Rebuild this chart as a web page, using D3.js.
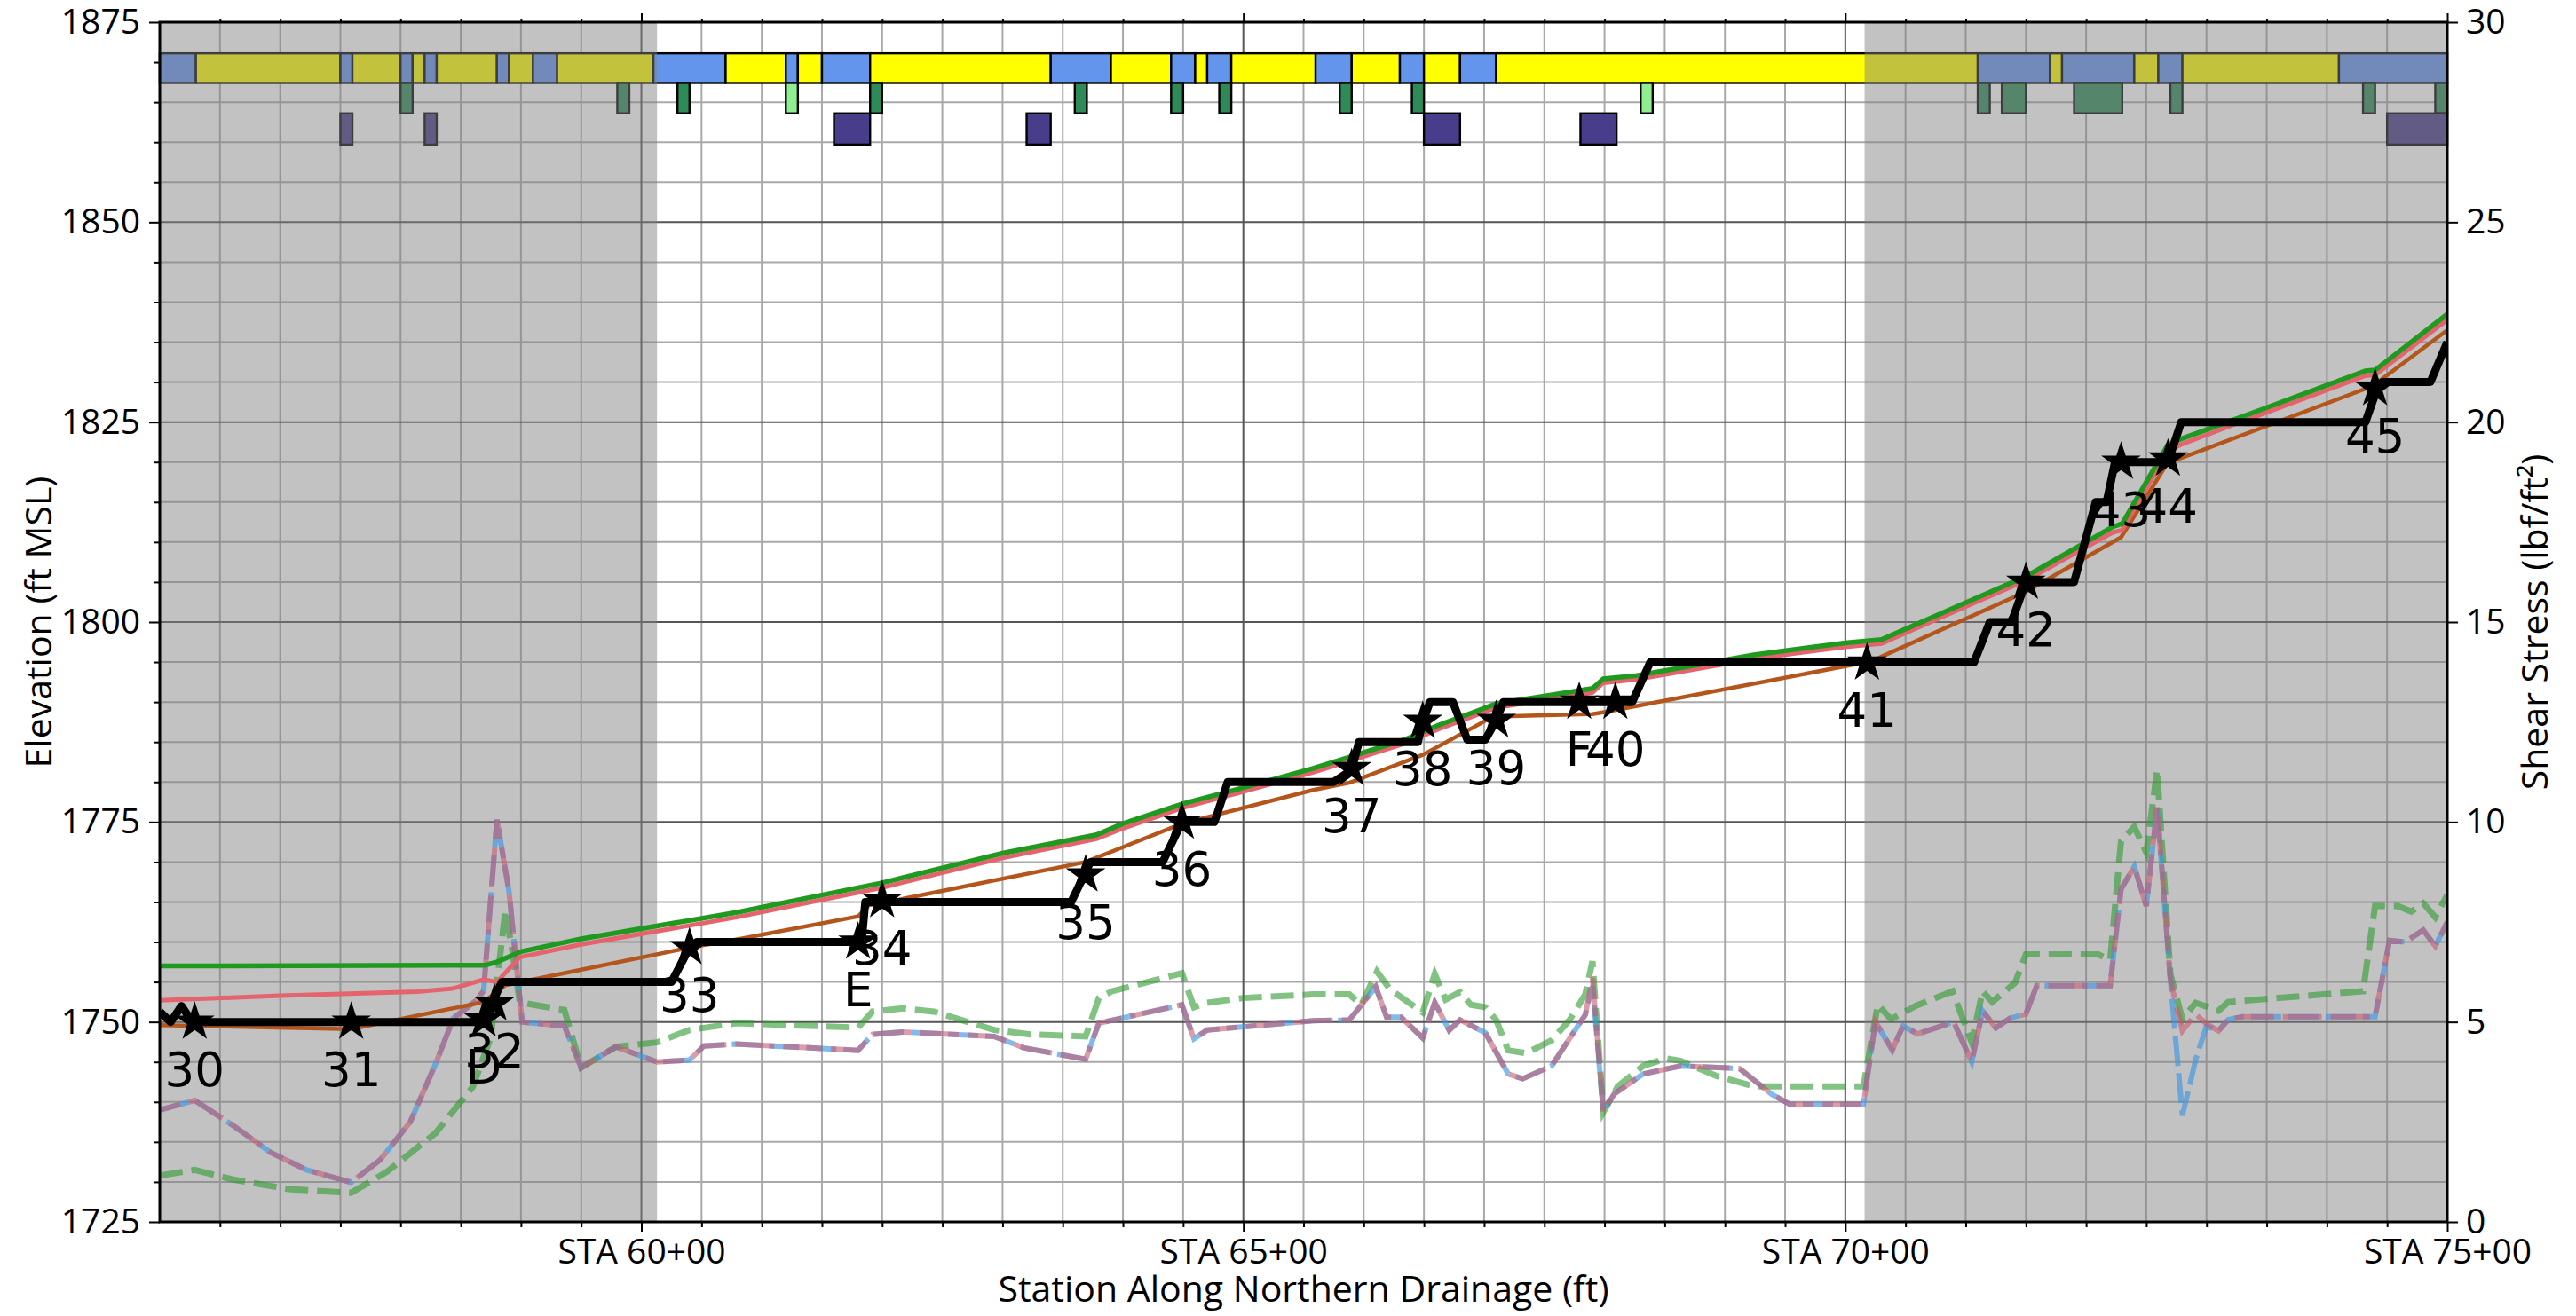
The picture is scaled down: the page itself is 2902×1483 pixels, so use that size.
<!DOCTYPE html>
<html>
<head>
<meta charset="utf-8">
<script src="https://cdn.jsdelivr.net/npm/d3@7"></script>
<style>
body { margin: 0; background: #fff; }
text { font-family: "Open Sans", sans-serif; }
</style>
</head>
<body>
<svg id="chart" width="2902" height="1483"></svg>
<script>
var stationTicks = [6000, 6500, 7000, 7500];
var elevTicks = [1725, 1750, 1775, 1800, 1825, 1850, 1875];
var stressTicks = [0, 5, 10, 15, 20, 25, 30];
var shadedZones = [[5600, 6013], [7016, 7500]];

// top strip, row 1 (b = blue, y = yellow)
var row1 = [[5600,5630,"b"],[5630,5750,"y"],[5750,5760,"b"],[5760,5800,"y"],[5800,5810,"b"],[5810,5820,"y"],
    [5820,5830,"b"],[5830,5880,"y"],[5880,5890,"b"],[5890,5910,"y"],[5910,5930,"b"],[5930,6010,"y"],
    [6010,6070,"b"],[6070,6120,"y"],[6120,6130,"b"],[6130,6150,"y"],[6150,6190,"b"],[6190,6340,"y"],
    [6340,6390,"b"],[6390,6440,"y"],[6440,6460,"b"],[6460,6470,"y"],[6470,6490,"b"],[6490,6560,"y"],
    [6560,6590,"b"],[6590,6630,"y"],[6630,6650,"b"],[6650,6680,"y"],[6680,6710,"b"],[6710,7110,"y"],
    [7110,7170,"b"],[7170,7180,"y"],[7180,7240,"b"],[7240,7260,"y"],[7260,7280,"b"],[7280,7410,"y"],
    [7410,7500,"b"]];
// row 2 (g = green, l = light green)
var row2 = [[5800,5810,"g"],[5980,5990,"g"],[6030,6040,"g"],[6120,6130,"l"],[6190,6200,"g"],[6360,6370,"g"],
    [6440,6450,"g"],[6480,6490,"g"],[6580,6590,"g"],[6640,6650,"g"],[6830,6840,"l"],[7110,7120,"g"],
    [7130,7150,"g"],[7190,7230,"g"],[7270,7280,"g"],[7430,7440,"g"],[7490,7500,"g"]];
// row 3 (p = purple)
var row3 = [[5750,5760,"p"],[5820,5830,"p"],[6160,6190,"p"],[6320,6340,"p"],[6650,6680,"p"],[6780,6810,"p"],[7450,7500,"p"]];

// elevation lines (station, ft MSL)
var greenWse = [[5600,1757.0],[5870,1757.1],[5880,1757.5],[5900,1758.8],[5950,1760.4],[6079,1763.7],[6200,1767.4],
    [6300,1771.1],[6378,1773.4],[6400,1774.8],[6450,1777.3],[6500,1779.3],[6558,1781.7],[6634,1785.3],
    [6662,1787.1],[6689,1788.6],[6710,1789.8],[6790,1791.7],[6799,1792.9],[6826,1793.3],[6924,1795.9],
    [7000,1797.4],[7030,1797.8],[7104,1802.7],[7150,1805.7],[7222,1811.9],[7230,1812.3],[7268,1822.2],
    [7279,1822.9],[7330,1825.7],[7432,1831.4],[7440,1831.5],[7500,1838.5]];
var pinkWse = [[5600,1752.7],[5700,1753.3],[5814,1753.8],[5844,1754.2],[5869,1755.3],[5880,1755.0],[5899,1758.1],
    [5950,1759.7],[6079,1763.1],[6200,1766.8],[6300,1770.5],[6378,1772.9],[6400,1774.2],[6450,1776.8],
    [6500,1778.8],[6558,1781.2],[6634,1784.8],[6662,1786.6],[6689,1788.1],[6710,1789.3],[6790,1791.2],
    [6799,1792.4],[6826,1792.8],[6924,1795.4],[7000,1796.9],[7030,1797.3],[7104,1802.2],[7150,1805.2],
    [7222,1811.2],[7230,1811.5],[7268,1821.4],[7279,1822.2],[7330,1825.1],[7432,1830.8],[7440,1830.9],
    [7500,1837.8]];
var brownBed = [[5600,1749.6],[5759,1749.1],[5869,1752.5],[5887,1754.6],[6040,1759.3],[6079,1760.3],[6180,1763.2],
    [6189,1764.6],[6201,1764.9],[6369,1770.0],[6449,1774.8],[6558,1779.0],[6588,1779.9],[6649,1783.4],
    [6704,1787.9],[6716,1788.2],[6790,1788.5],[6802,1788.8],[7018,1795.0],[7029,1795.6],[7150,1803.8],
    [7229,1810.6],[7268,1820.0],[7279,1820.5],[7438,1829.5],[7500,1836.5]];
var blackProfile = [[5600,1751.3],[5609,1750],[5618,1752],[5627,1750],[5869,1750],[5884,1755],[6025,1755],
    [6040,1759.3],[6046,1760],[6183,1760],[6186,1765],[6357,1765],[6373,1770],[6433,1770],[6449,1775],
    [6476,1775],[6487,1780],[6575,1780],[6590,1781.5],[6596,1785],[6645,1785],[6649,1787.5],[6655,1790],
    [6674,1790],[6686,1785.3],[6701,1785.3],[6710,1787.7],[6716,1790],[6823,1790],[6838,1795],[7107,1795],
    [7120,1800],[7138,1800],[7150,1805],[7190,1805],[7208,1815],[7217,1815],[7224,1820],[7268,1820],
    [7279,1825],[7432,1825],[7442,1829.3],[7446,1830],[7486,1830],[7500,1835]];
var starLabels = [["30",5629,1750],["31",5759,1750],["D",5869,1750.3],["32",5878,1752.3],["33",6040,1759.3],
    ["E",6180,1760],["34",6200,1765.2],["35",6369,1768.4],["36",6449,1775],["37",6590,1781.7],
    ["38",6649,1787.6],["39",6710,1787.7],["F",6779,1790],["40",6809,1790],["41",7018,1794.9],
    ["42",7150,1805],["43",7229,1820],["44",7268,1820.4],["45",7440,1829.2]];

// shear stress lines (station, lbf/ft2)
var shearBlue = [[5600,2.8],[5629,3.04],[5661,2.41],[5692,1.74],[5722,1.3],[5759,0.99],[5783,1.55],[5808,2.5],
    [5829,3.95],[5844,5.1],[5863,5.54],[5869,5.78],[5880,10.06],[5890,8.28],[5901,5.0],[5936,4.9],[5950,3.86],
    [5979,4.38],[6013,4.0],[6040,4.05],[6052,4.4],[6079,4.45],[6180,4.29],[6192,4.69],[6217,4.75],[6293,4.64],
    [6318,4.35],[6369,4.07],[6380,4.97],[6449,5.43],[6459,4.58],[6470,4.8],[6558,5.03],[6588,5.05],[6610,5.88],
    [6619,5.12],[6631,5.12],[6649,4.6],[6659,5.49],[6671,4.79],[6680,5.05],[6701,4.73],[6720,3.7],[6732,3.58],
    [6756,3.9],[6784,5.18],[6790,5.9],[6799,2.75],[6808,3.2],[6832,3.7],[6863,3.9],[6912,3.84],[6939,3.19],
    [6954,2.94],[7015,2.94],[7025,5.0],[7039,4.3],[7048,4.9],[7060,4.7],[7090,5.0],[7105,4.0],[7114,5.28],
    [7125,4.85],[7137,5.1],[7150,5.2],[7159,5.91],[7220,5.91],[7229,8.32],[7240,8.89],[7250,7.9],[7259,10.37],
    [7270,6.05],[7280,2.66],[7291,4.06],[7300,4.9],[7310,4.78],[7318,5.06],[7330,5.13],[7440,5.13],[7452,7.04],
    [7465,7.0],[7480,7.3],[7490,6.9],[7500,7.5]];
var shearPink = [[5600,2.8],[5629,3.04],[5661,2.41],[5692,1.74],[5722,1.3],[5759,0.99],[5783,1.55],[5808,2.5],
    [5829,3.95],[5844,5.1],[5863,5.54],[5869,5.78],[5880,10.06],[5890,8.28],[5901,5.0],[5936,4.9],[5950,3.86],
    [5979,4.38],[6013,4.0],[6040,4.05],[6052,4.4],[6079,4.45],[6180,4.29],[6192,4.69],[6217,4.75],[6293,4.64],
    [6318,4.35],[6369,4.07],[6380,4.97],[6449,5.43],[6459,4.58],[6470,4.8],[6558,5.03],[6588,5.05],[6610,5.88],
    [6619,5.12],[6631,5.12],[6649,4.6],[6659,5.49],[6671,4.79],[6680,5.05],[6701,4.73],[6720,3.7],[6732,3.58],
    [6756,3.9],[6784,5.18],[6790,6.1],[6799,2.75],[6808,3.2],[6832,3.7],[6863,3.9],[6912,3.84],[6939,3.19],
    [6954,2.94],[7015,2.94],[7025,5.0],[7039,4.3],[7048,4.9],[7060,4.7],[7090,5.0],[7105,4.0],[7114,5.28],
    [7125,4.85],[7137,5.1],[7150,5.2],[7159,5.91],[7220,5.91],[7229,8.32],[7240,8.89],[7250,7.9],[7259,10.37],
    [7270,6.05],[7280,4.78],[7291,5.2],[7300,4.95],[7310,4.78],[7318,5.06],[7330,5.13],[7440,5.13],[7452,7.04],
    [7465,7.0],[7480,7.3],[7490,6.9],[7500,7.5]];
var shearGreen = [[5600,1.16],[5629,1.3],[5661,1.06],[5707,0.82],[5759,0.73],[5789,1.26],[5829,2.22],[5860,3.38],
    [5875,4.62],[5887,7.8],[5893,6.74],[5899,5.49],[5936,5.3],[5950,3.86],[5979,4.38],[6013,4.49],[6040,4.8],
    [6079,4.97],[6180,4.86],[6192,5.26],[6217,5.34],[6243,5.26],[6268,5.03],[6293,4.8],[6323,4.69],[6369,4.64],
    [6380,5.6],[6391,5.77],[6449,6.22],[6459,5.37],[6470,5.48],[6500,5.6],[6558,5.69],[6588,5.69],[6598,5.43],
    [6611,6.26],[6622,5.81],[6649,5.24],[6659,6.2],[6668,5.56],[6680,5.75],[6689,5.43],[6701,5.37],[6710,5.05],
    [6720,4.29],[6735,4.22],[6756,4.54],[6771,5.05],[6784,5.69],[6790,6.52],[6799,2.75],[6811,3.39],[6832,3.9],
    [6851,4.09],[6863,4.03],[6893,3.65],[6924,3.39],[7015,3.39],[7027,5.43],[7038,5.07],[7059,5.41],[7089,5.77],
    [7105,4.49],[7114,5.77],[7122,5.5],[7141,5.98],[7150,6.69],[7210,6.69],[7220,6.55],[7229,9.52],[7240,9.88],
    [7250,9.24],[7259,11.3],[7270,6.2],[7280,5.07],[7291,5.48],[7310,5.28],[7318,5.5],[7430,5.77],[7440,7.9],
    [7459,7.9],[7470,7.76],[7480,7.97],[7490,7.62],[7500,8.18]];

var svg = d3.select("#chart");
var padL = 180, padR = 2757, padT = 25, padB = 1377;
var x = d3.scaleLinear().domain([5600, 7500]).range([padL, padR]);
var yL = d3.scaleLinear().domain([1725, 1875]).range([padB, padT]);
var yR = d3.scaleLinear().domain([0, 30]).range([padB, padT]);

svg.append("rect").attr("width", 2902).attr("height", 1483).attr("fill", "#fff");
svg.append("clipPath").attr("id", "plot").append("rect")
    .attr("x", padL).attr("y", padT).attr("width", padR - padL).attr("height", padB - padT);

var minorSta = d3.range(5650, 7500, 50).filter(function (d) { return d % 500 != 0; });
var minorElev = d3.range(1730, 1875, 5).filter(function (d) { return d % 25 != 0; });

//grid
var grid = svg.append("g");
grid.selectAll(".vmin").data(minorSta).enter().append("line")
    .attr("x1", function (d) { return x(d); }).attr("x2", function (d) { return x(d); })
    .attr("y1", padT).attr("y2", padB).attr("stroke", "#a9a9a9").attr("stroke-width", 2);
grid.selectAll(".hmin").data(minorElev).enter().append("line")
    .attr("y1", function (d) { return yL(d); }).attr("y2", function (d) { return yL(d); })
    .attr("x1", padL).attr("x2", padR).attr("stroke", "#a9a9a9").attr("stroke-width", 2);
grid.selectAll(".vmaj").data(stationTicks).enter().append("line")
    .attr("x1", function (d) { return x(d); }).attr("x2", function (d) { return x(d); })
    .attr("y1", padT).attr("y2", padB).attr("stroke", "#555").attr("stroke-width", 2);
grid.selectAll(".hmaj").data(elevTicks).enter().append("line")
    .attr("y1", function (d) { return yL(d); }).attr("y2", function (d) { return yL(d); })
    .attr("x1", padL).attr("x2", padR).attr("stroke", "#555").attr("stroke-width", 2);

// top strip
var fills = { b: "cornflowerblue", y: "#ffff00", g: "seagreen", l: "lightgreen", p: "darkslateblue" };
var bandTop = [29.22, 28.48, 27.72];
var bandBottom = [28.48, 27.72, 26.94];
[row1, row2, row3].forEach(function (row, i) {
    svg.append("g").selectAll("rect").data(row).enter().append("rect")
        .attr("x", function (d) { return x(d[0]); })
        .attr("width", function (d) { return x(d[1]) - x(d[0]); })
        .attr("y", yR(bandTop[i])).attr("height", yR(bandBottom[i]) - yR(bandTop[i]))
        .attr("fill", function (d) { return fills[d[2]]; })
        .attr("stroke", "#000").attr("stroke-width", 2.4);
});

// shaded reaches
svg.append("g").selectAll("rect").data(shadedZones).enter().append("rect")
    .attr("x", function (d) { return x(d[0]); }).attr("width", function (d) { return x(d[1]) - x(d[0]); })
    .attr("y", padT).attr("height", padB - padT).attr("fill", "#808080").attr("opacity", 0.48);

var plot = svg.append("g").attr("clip-path", "url(#plot)");
var lineR = d3.line().x(function (d) { return x(d[0]); }).y(function (d) { return yR(d[1]); });
var lineL = d3.line().x(function (d) { return x(d[0]); }).y(function (d) { return yL(d[1]); });

plot.append("path").attr("d", lineR(shearGreen)).attr("fill", "none").attr("stroke", "#2e9a2e")
    .attr("stroke-width", 7).attr("stroke-dasharray", "26,10").attr("opacity", 0.6);
plot.append("path").attr("d", lineR(shearBlue)).attr("fill", "none").attr("stroke", "#3d95e0")
    .attr("stroke-width", 6).attr("stroke-dasharray", "34,8").attr("opacity", 0.65);
plot.append("path").attr("d", lineR(shearPink)).attr("fill", "none").attr("stroke", "#c85a6e")
    .attr("stroke-width", 6).attr("stroke-dasharray", "44,10").attr("stroke-dashoffset", 20).attr("opacity", 0.6);

plot.append("path").attr("d", lineL(brownBed)).attr("fill", "none").attr("stroke", "#b4561c").attr("stroke-width", 4.5);
plot.append("path").attr("d", lineL(pinkWse)).attr("fill", "none").attr("stroke", "#e5636d").attr("stroke-width", 5);
plot.append("path").attr("d", lineL(greenWse)).attr("fill", "none").attr("stroke", "#1f9a1f").attr("stroke-width", 5.5);
plot.append("path").attr("d", lineL(blackProfile)).attr("fill", "none").attr("stroke", "#000")
    .attr("stroke-width", 9).attr("stroke-linejoin", "round");

var star = d3.symbol().type(d3.symbolStar).size(620);
plot.selectAll(".star").data(starLabels).enter().append("path")
    .attr("d", star).attr("fill", "#000")
    .attr("transform", function (d) { return "translate(" + x(d[1]) + "," + yL(d[2]) + ")"; });
svg.append("g").selectAll("text").data(starLabels).enter().append("text")
    .attr("x", function (d) { return x(d[1]); }).attr("y", function (d) { return yL(d[2]) + 72; })
    .attr("text-anchor", "middle").style("font-family", "'DejaVu Sans', sans-serif").style("font-size", "53px")
    .attr("fill", "#000").text(function (d) { return d[0]; });

// axes
function styleAxis(g) {
    g.select(".domain").remove();
    g.selectAll("line").attr("stroke", "#000").attr("stroke-width", 2);
    g.selectAll("text").style("font-family", "'Open Sans', sans-serif").style("font-size", "39px").attr("fill", "#000");
}
svg.append("g").attr("transform", "translate(" + padL + ",0)")
    .call(d3.axisLeft(yL).tickValues(minorElev).tickSize(7).tickFormat("")).call(styleAxis);
svg.append("g").attr("transform", "translate(" + padL + ",0)")
    .call(d3.axisLeft(yL).tickValues(elevTicks).tickSize(12).tickPadding(10).tickFormat(d3.format("d"))).call(styleAxis);
svg.append("g").attr("transform", "translate(" + padR + ",0)")
    .call(d3.axisRight(yR).tickValues(stressTicks).tickSize(12).tickPadding(9)).call(styleAxis);
svg.append("g").attr("transform", "translate(0," + padB + ")")
    .call(d3.axisBottom(x).tickValues(minorSta).tickSize(6).tickFormat("")).call(styleAxis);
svg.append("g").attr("transform", "translate(0," + padB + ")")
    .call(d3.axisBottom(x).tickValues(stationTicks).tickSize(11).tickPadding(8)
        .tickFormat(function (d) { return "STA " + d / 100 + "+00"; })).call(styleAxis);
svg.append("g").attr("transform", "translate(0," + padT + ")")
    .call(d3.axisTop(x).tickValues(minorSta).tickSize(4).tickFormat("")).call(styleAxis);
svg.append("g").attr("transform", "translate(0," + padT + ")")
    .call(d3.axisTop(x).tickValues(stationTicks).tickSize(10).tickFormat("")).call(styleAxis);

svg.append("rect").attr("x", padL).attr("y", padT).attr("width", padR - padL).attr("height", padB - padT)
    .attr("fill", "none").attr("stroke", "#000").attr("stroke-width", 3);

svg.append("text").attr("x", (padL + padR) / 2).attr("y", 1467).attr("text-anchor", "middle")
    .style("font-size", "41px").text("Station Along Northern Drainage (ft)");
svg.append("text").attr("transform", "translate(58," + (padT + padB) / 2 + ") rotate(-90)")
    .attr("text-anchor", "middle").style("font-size", "41px").text("Elevation (ft MSL)");
svg.append("text").attr("transform", "translate(2870," + (padT + padB) / 2 + ") rotate(-90)")
    .attr("text-anchor", "middle").style("font-size", "41px").text("Shear Stress (lbf/ft²)");
</script>
</body>
</html>
